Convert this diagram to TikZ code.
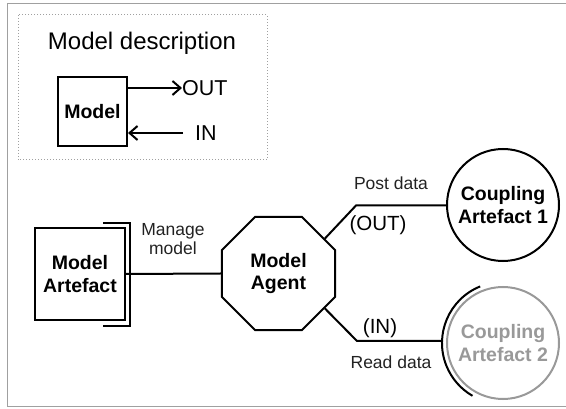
\documentclass[tikz,border=0pt]{standalone}
\usepackage{fontspec}
\setmainfont{Liberation Sans}
\usetikzlibrary{shapes.geometric,arrows.meta}
\definecolor{framegray}{HTML}{A0A0A0}
\definecolor{lightgray2}{HTML}{999999}
\definecolor{labelgray}{HTML}{222222}
\begin{document}
\begin{tikzpicture}[x=1pt,y=-1pt,
  thick line/.style={line width=2pt},
  boldlabel/.style={font=\fontsize{19.5}{22.5}\selectfont\bfseries, align=center, inner sep=0pt},
  plainlabel/.style={font=\fontsize{17.5}{19}\selectfont, text=labelgray, align=center, inner sep=0pt},
  portlabel/.style={font=\fontsize{20.5}{22}\selectfont, inner sep=0pt},
  arrowtip/.style={-{Straight Barb[length=8pt,width=14pt,line width=2pt]}}]
\useasboundingbox (0,0) rectangle (566,409);
% outer frame
\draw[framegray, line width=1pt] (566,3.5) -- (7,3.5) -- (7,407) -- (566,407);
% model description box
\draw[framegray, dotted, line width=1pt] (18,15) rectangle (267,160);
\node[font=\fontsize{24}{26}\selectfont, inner sep=0pt] (title) at (142,43) {Model description};
\node[draw, thick line, minimum width=69pt, minimum height=69pt, boldlabel] (model) at (92.5,111.5) {Model};
\node[portlabel, anchor=west, font=\fontsize{21.5}{23}\selectfont] (outl) at (182,88) {OUT};
\node[portlabel, anchor=west, font=\fontsize{21.5}{23}\selectfont] (inl) at (195,133) {IN};
\coordinate (instart) at (183,133);
\draw[thick line, arrowtip] (model.east |- outl.west) -- (outl.west);
\draw[thick line, arrowtip] (instart) -- (model.east |- instart);
% model artefact
\node[draw, thick line, minimum width=90pt, minimum height=92pt, boldlabel] (artefact) at (80,274) {Model\\Artefact};
\coordinate (brA) at (103,223);
\coordinate (brB) at (130,223);
\coordinate (brC) at (130,326);
\coordinate (brD) at (103,326);
\draw[thick line] (brA) -- (brB) -- (brC) -- (brD);
% agent
\node[draw, thick line, regular polygon, regular polygon sides=8, minimum size=122.4pt, inner sep=0pt, boldlabel] (agent) at (278.5,273.5) {Model\\Agent};
\draw[thick line] (artefact.east) -- (agent.west);
\node[plainlabel] (manage) at (173,239) {Manage\\model};
% coupling artefacts
\node[draw, thick line, circle, minimum size=112pt, inner sep=0pt, boldlabel] (c1) at (503,205) {Coupling\\Artefact 1};
\node[draw=lightgray2, thick line, circle, minimum size=112pt, inner sep=0pt, boldlabel, text=lightgray2] (c2) at (503,343) {Coupling\\Artefact 2};
\draw[thick line] (c2.center) ++(-112:61) arc[start angle=-112, end angle=-240, radius=61];
\coordinate (arcleft) at ([xshift=-61pt]c2.center);
\coordinate (bendout) at (356,205.5);
\coordinate (bendin) at (357,341);
\draw[thick line] (agent.37) -- (bendout) -- (c1.west |- bendout);
\draw[thick line] (agent.-37) -- (bendin) -- (arcleft |- bendin);
\node[portlabel] (outp) at (378,225) {(OUT)};
\node[portlabel] (inp) at (380,328) {(IN)};
\node[plainlabel] (post) at (391,183) {Post data};
\node[plainlabel] (read) at (391,362) {Read data};
\end{tikzpicture}
\end{document}
